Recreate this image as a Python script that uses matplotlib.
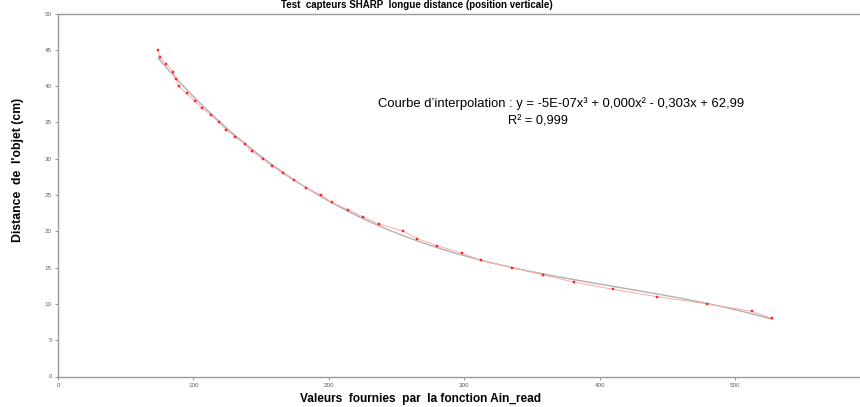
import numpy as np
import matplotlib
matplotlib.use("Agg")
import matplotlib.pyplot as plt

# Data
ain_read = [74, 75, 80, 85, 87, 89, 95, 101, 106, 113, 119, 124, 131, 138,
            143, 151, 158, 166, 174, 183, 194, 202, 214, 225, 237, 255, 265,
            280, 298, 312, 335, 358, 381, 410, 442, 479, 512, 527]
distance_cm = [45, 44, 43, 42, 41, 40, 39, 38, 37, 36, 35, 34, 33, 32,
               31, 30, 29, 28, 27, 26, 25, 24, 23, 22, 21, 20, 19,
               18, 17, 16, 15, 14, 13, 12, 11, 10, 9, 8]
x_ticks = [0, 100, 200, 300, 400, 500]
y_ticks = [0, 5, 10, 15, 20, 25, 30, 35, 40, 45, 50]

title = "Test  capteurs SHARP  longue distance (position verticale)"
xlabel = "Valeurs  fournies  par  la fonction Ain_read"
ylabel = "Distance  de  l'objet (cm)"
eq_text = "Courbe d\u2019interpolation : y = -5E-07x\u00b3 + 0,000x\u00b2 - 0,303x + 62,99"
r2_text = "R\u00b2 = 0,999"

plt.rcParams['font.family'] = ['Liberation Sans', 'DejaVu Sans']

fig = plt.figure(figsize=(8.6, 4.07), dpi=100)
ax = fig.add_axes([58/860, 30.5/407, 1 - 58/860, 363/407])

x = np.array(ain_read, dtype=float)
y = np.array(distance_cm, dtype=float)

# cubic trendline (Excel-like)
coef = np.polyfit(x, y, 3)
xf = np.linspace(x.min(), x.max(), 300)
ax.plot(xf, np.polyval(coef, xf), color='#b0b0b0', lw=1.0, zorder=2)

ax.plot(x, y, color='#ffaaaa', lw=0.7, zorder=3)
ax.plot(x, y, ls='none', marker='s', ms=1.5, color='#ff2020', mec='#ff2020',
        mew=0.3, zorder=4)

ax.set_xlim(0, 592)
ax.set_ylim(0, 50)
ax.set_xticks(x_ticks)
ax.set_yticks(y_ticks)
ax.tick_params(axis='both', labelsize=4.5, colors='#808080', labelcolor='#606060',
               length=2.5, width=0.6, direction='out', pad=2)

for s in ['left', 'bottom', 'top']:
    ax.spines[s].set_color('#999999')
    ax.spines[s].set_linewidth(1.0)
ax.spines['right'].set_visible(False)

fig.text(417/860, 1 - 8/407, title, ha='center', va='baseline',
         fontsize=7, fontweight='bold', color='black')
fig.text(420/860, 1 - 402/407, xlabel, ha='center', va='baseline',
         fontsize=8.6, fontweight='bold')
fig.text(18/860, 1 - 170/407, ylabel, ha='center', va='center', rotation=90,
         fontsize=8.8, fontweight='bold')

fig.text(561/860, 1 - 104/407, eq_text, ha='center', va='center', fontsize=9.4)
fig.text(538/860, 1 - 121/407, r2_text, ha='center', va='center', fontsize=9.2)

fig.savefig("out.png", dpi=100)
